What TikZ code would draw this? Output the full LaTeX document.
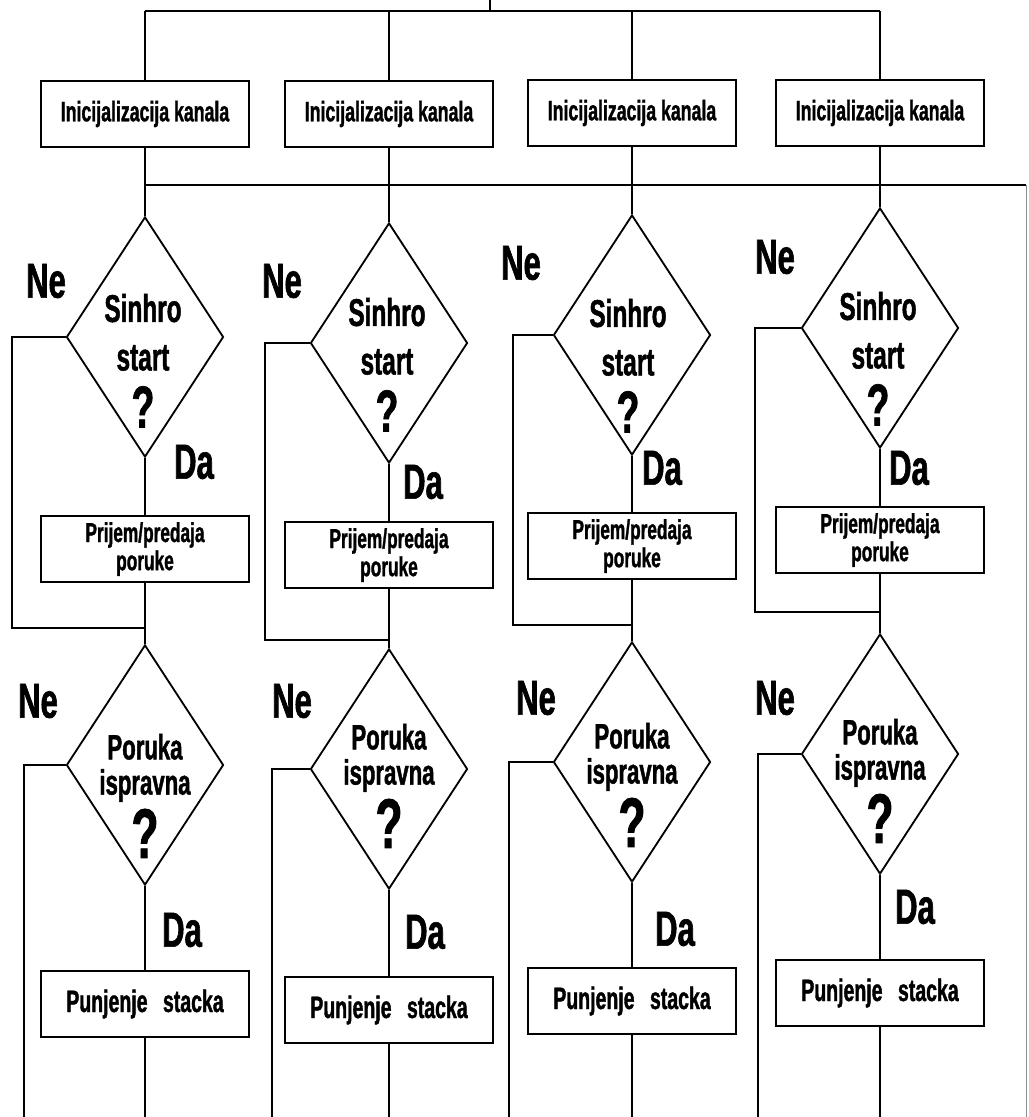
\documentclass[tikz,border=0pt]{standalone}
\usepackage{fontspec}
\newfontfamily\narrowsans[FakeStretch=0.63, BoldFeatures={FakeBold=1.2}]{Liberation Sans}
\usetikzlibrary{shapes.geometric}
\tikzset{
	box/.style={draw, rectangle, minimum width=5.2cm, minimum height=1.63cm, inner sep=0pt,
		align=center, font=\narrowsans\bfseries\fontsize{20}{24}\selectfont},
	smallbox/.style={box, font=\narrowsans\bfseries\fontsize{19.5}{20}\selectfont},
	stackbox/.style={box, font=\narrowsans\bfseries\fontsize{22}{24}\selectfont},
	decision/.style={diamond, draw, minimum width=3.925cm, minimum height=6cm, inner sep=0pt},
	sinhrotext/.style={anchor=north, inner sep=0pt, align=center,
		font=\narrowsans\bfseries\fontsize{27.5}{34.5}\selectfont},
	porukatext/.style={anchor=north, inner sep=0pt, align=center,
		font=\narrowsans\bfseries\fontsize{25}{25}\selectfont},
	answer/.style={inner sep=0pt, font=\narrowsans\bfseries\fontsize{35}{40}\selectfont},
	faint/.style={draw=black!45, line width=0.6pt}
}

\begin{document}
\begin{tikzpicture}[x=0.025cm, y=-0.025cm, line width=1.3pt]
	\useasboundingbox (0,0) rectangle (1028,1117);
	\coordinate (in) at (490,0);
	\coordinate (bus1) at (0,11);
	\coordinate (bus2) at (0,185);
	\coordinate (edge) at (1026,185);
	\coordinate (bot) at (0,1117);

	% kanal 1
	\node[box] (ik1) at (145,114) {Inicijalizacija kanala};
	\node[decision] (ss1) at (145,337) {};
	\node[sinhrotext] (ts1) at (143,293) {Sinhro\\start\\[6pt]{\fontsize{42}{42}\selectfont ?}};
	\node[answer] (ne1a) at (46,281) {Ne};
	\node[answer] (da1a) at (194,462) {Da};
	\node[smallbox] (pp1) at (145,549) {Prijem/predaja\\poruke};
	\node[decision] (pi1) at (145,765) {};
	\node[porukatext] (tp1) at (145,733) {Poruka\\ispravna\\[4pt]{\fontsize{50}{50}\selectfont ?}};
	\node[answer] (ne1b) at (38,701) {Ne};
	\node[answer] (da1b) at (182,930) {Da};
	\node[stackbox] (ps1) at (145,1004) {Punjenje\enspace stacka};
	\coordinate (lp1) at (12,628);
	\coordinate (lq1) at (24,1117);

	% kanal 2
	\node[box] (ik2) at (389,114) {Inicijalizacija kanala};
	\node[decision] (ss2) at (389,343) {};
	\node[sinhrotext] (ts2) at (387,297) {Sinhro\\start\\[6pt]{\fontsize{42}{42}\selectfont ?}};
	\node[answer] (ne2a) at (282,281) {Ne};
	\node[answer] (da2a) at (423,482) {Da};
	\node[smallbox] (pp2) at (389,555) {Prijem/predaja\\poruke};
	\node[decision] (pi2) at (389,769) {};
	\node[porukatext] (tp2) at (389,723) {Poruka\\ispravna\\[4pt]{\fontsize{50}{50}\selectfont ?}};
	\node[answer] (ne2b) at (292,701) {Ne};
	\node[answer] (da2b) at (425,932) {Da};
	\node[stackbox] (ps2) at (389,1010) {Punjenje\enspace stacka};
	\coordinate (lp2) at (265,640);
	\coordinate (lq2) at (272,1117);

	% kanal 3
	\node[box] (ik3) at (632,113) {Inicijalizacija kanala};
	\node[decision] (ss3) at (632,335) {};
	\node[sinhrotext] (ts3) at (628,298) {Sinhro\\start\\[6pt]{\fontsize{42}{42}\selectfont ?}};
	\node[answer] (ne3a) at (521,263) {Ne};
	\node[answer] (da3a) at (662,468) {Da};
	\node[smallbox] (pp3) at (632,546) {Prijem/predaja\\poruke};
	\node[decision] (pi3) at (632,762) {};
	\node[porukatext] (tp3) at (632,722) {Poruka\\ispravna\\[4pt]{\fontsize{50}{50}\selectfont ?}};
	\node[answer] (ne3b) at (536,698) {Ne};
	\node[answer] (da3b) at (675,929) {Da};
	\node[stackbox] (ps3) at (632,1001) {Punjenje\enspace stacka};
	\coordinate (lp3) at (513,625);
	\coordinate (lq3) at (509,1117);

	% kanal 4
	\node[box] (ik4) at (880,113) {Inicijalizacija kanala};
	\node[decision] (ss4) at (880,328) {};
	\node[sinhrotext] (ts4) at (878,291) {Sinhro\\start\\[6pt]{\fontsize{42}{42}\selectfont ?}};
	\node[answer] (ne4a) at (775,257) {Ne};
	\node[answer] (da4a) at (909,468) {Da};
	\node[smallbox] (pp4) at (880,540) {Prijem/predaja\\poruke};
	\node[decision] (pi4) at (880,754) {};
	\node[porukatext] (tp4) at (880,718) {Poruka\\ispravna\\[4pt]{\fontsize{50}{50}\selectfont ?}};
	\node[answer] (ne4b) at (775,698) {Ne};
	\node[answer] (da4b) at (915,907) {Da};
	\node[stackbox] (ps4) at (880,993) {Punjenje\enspace stacka};
	\coordinate (lp4) at (755,612);
	\coordinate (lq4) at (758,1117);

	\draw (in) -- (in |- bus1);
	\draw (ik1 |- bus1) -- (ik4 |- bus1);
	\draw (ik1 |- bus2) -- (edge);
	\draw[faint] (edge) -- (edge |- bot);
	\draw (ik1 |- bus1) -- (ik1) -- (ss1) -- (pp1) -- (pi1) -- (ps1) -- (ps1 |- bot);
	\draw (ik2 |- bus1) -- (ik2) -- (ss2) -- (pp2) -- (pi2) -- (ps2) -- (ps2 |- bot);
	\draw (ik3 |- bus1) -- (ik3) -- (ss3) -- (pp3) -- (pi3) -- (ps3) -- (ps3 |- bot);
	\draw (ik4 |- bus1) -- (ik4) -- (ss4) -- (pp4) -- (pi4) -- (ps4) -- (ps4 |- bot);
	\draw (ss1.west) -| (lp1) -- (lp1 -| pp1);
	\draw (ss2.west) -| (lp2) -- (lp2 -| pp2);
	\draw (ss3.west) -| (lp3) -- (lp3 -| pp3);
	\draw (ss4.west) -| (lp4) -- (lp4 -| pp4);
	\draw (pi1.west) -| (lq1);
	\draw (pi2.west) -| (lq2);
	\draw (pi3.west) -| (lq3);
	\draw (pi4.west) -| (lq4);
\end{tikzpicture}
\end{document}
